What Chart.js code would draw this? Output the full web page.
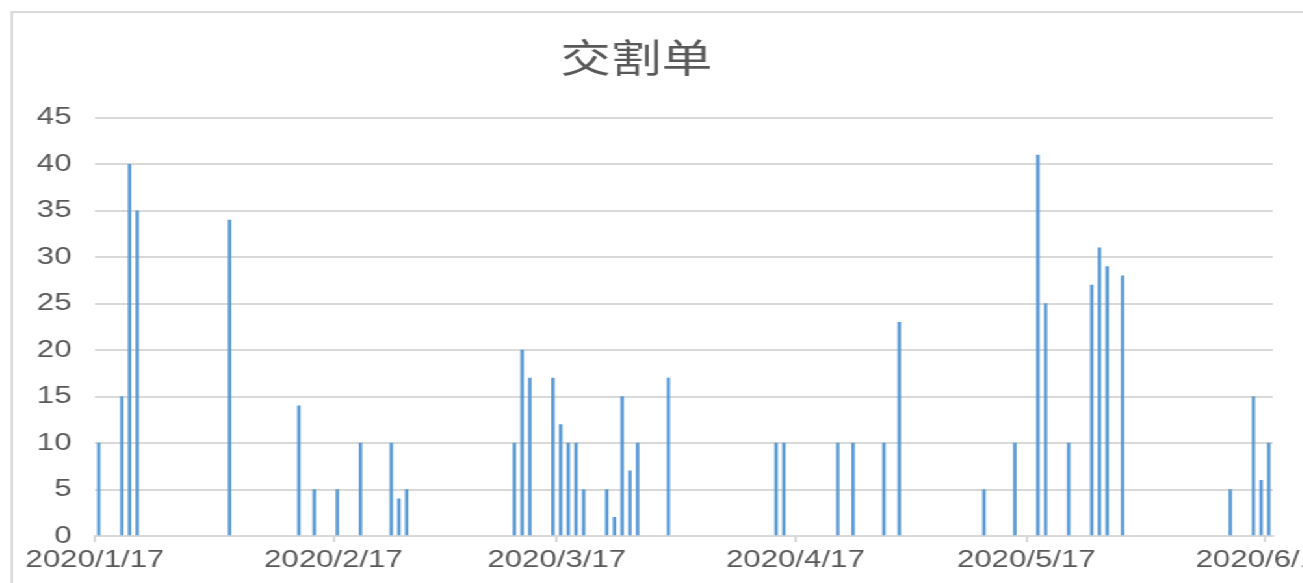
<!DOCTYPE html>
<html>
<head>
<meta charset="utf-8">
<script src="https://cdn.jsdelivr.net/npm/chart.js@4.4.1/dist/chart.umd.min.js"></script>
<style>
  html, body { margin: 0; padding: 0; background: #fff; overflow: hidden; }
  body { width: 1303px; height: 583px; position: relative; }
  /* the source picture is stretched sideways, so draw narrower and stretch */
  #wrap { position: absolute; left: 0; top: 0; width: 1002px; height: 583px;
          transform: scaleX(1.3); transform-origin: 0 0; }
  #frame { position: absolute; left: 8px; top: 11px; width: 1200px; height: 700px;
           border-top: 2px solid #d9d9d9; border-left: 2px solid #d9d9d9; }
  #box { position: absolute; left: 0; top: 0; width: 1002px; height: 583px; }
</style>
</head>
<body>
<div id="wrap">
  <div id="frame"></div>
  <div id="box"><canvas id="chart1"></canvas></div>
</div>
<script>
const tradeDates = ['2020/1/17', '2020/1/20', '2020/1/21', '2020/1/22', '2020/2/3',
    '2020/2/12', '2020/2/14', '2020/2/17', '2020/2/20', '2020/2/24', '2020/2/25', '2020/2/26',
    '2020/3/11', '2020/3/12', '2020/3/13', '2020/3/16', '2020/3/17', '2020/3/18', '2020/3/19',
    '2020/3/20', '2020/3/23', '2020/3/24', '2020/3/25', '2020/3/26', '2020/3/27', '2020/3/31',
    '2020/4/14', '2020/4/15', '2020/4/22', '2020/4/24', '2020/4/28', '2020/4/30',
    '2020/5/11', '2020/5/15', '2020/5/18', '2020/5/19', '2020/5/22', '2020/5/25', '2020/5/26',
    '2020/5/27', '2020/5/29', '2020/6/12', '2020/6/15', '2020/6/16', '2020/6/17'];
const volumes = [10, 15, 40, 35, 34,
    14, 5, 5, 10, 10, 4, 5,
    10, 20, 17, 17, 12, 10, 10,
    5, 5, 2, 15, 7, 10, 17,
    10, 10, 10, 10, 10, 23,
    5, 10, 41, 25, 10, 27, 31,
    29, 28, 5, 15, 6, 10];
const xTickLabels = ['2020/1/17', '2020/2/17', '2020/3/17', '2020/4/17', '2020/5/17', '2020/6/17'];
const yTicks = [0, 5, 10, 15, 20, 25, 30, 35, 40, 45];

// days since the first trade date
function dayNo(s) {
    const p = s.split('/').map(Number);
    const first = tradeDates[0].split('/').map(Number);
    return Math.round((Date.UTC(p[0], p[1] - 1, p[2]) - Date.UTC(first[0], first[1] - 1, first[2])) / 86400000);
}

const points = tradeDates.map((d, i) => ({ x: dayNo(d), y: volumes[i] }));
const lastDay = dayNo(tradeDates[tradeDates.length - 1]);

const tickFont = { family: "'Liberation Sans', Arial, sans-serif", size: 24 };

const ctx1 = document.getElementById('chart1').getContext('2d');
const chart1 = new Chart(ctx1, {
    type: 'bar',
    data: {
        datasets: [{
            label: '交割单',
            data: points,
            backgroundColor: '#5b9bd5',
            barThickness: 2
        }]
    },
    options: {
        responsive: true,
        maintainAspectRatio: false,
        animation: false,
        layout: { padding: { left: 0, right: 23, top: 0, bottom: 0 } },
        plugins: {
            legend: { display: false },
            tooltip: { enabled: false },
            title: {
                display: true,
                text: '交割单',
                color: '#595959',
                font: { family: "'Noto Sans CJK SC', sans-serif", size: 39, weight: 'normal', lineHeight: 1.2 },
                padding: { top: 34, bottom: 37 }
            }
        },
        scales: {
            x: {
                type: 'linear',
                offset: false,
                min: -0.5,
                max: lastDay + 0.5,
                grid: { offset: false, drawOnChartArea: false, drawTicks: true, tickLength: 6, color: '#d9d9d9', lineWidth: 2 },
                border: { display: true, color: '#d9d9d9', width: 2 },
                ticks: {
                    autoSkip: false,
                    maxRotation: 0,
                    padding: 4,
                    color: '#595959',
                    font: tickFont,
                    callback: (v, i) => xTickLabels[i]
                },
                afterBuildTicks: s => { s.ticks = xTickLabels.map(l => ({ value: dayNo(l) - 0.5 })); },
                afterFit: s => { s.height = 47; s.paddingLeft = 0; s.paddingRight = 0; }
            },
            y: {
                min: 0,
                max: 45,
                grid: { drawTicks: false, color: '#d9d9d9', lineWidth: 2 },
                border: { display: false },
                ticks: { padding: 18, color: '#595959', font: tickFont },
                afterBuildTicks: s => { s.ticks = yTicks.map(v => ({ value: v })); },
                afterFit: s => { s.width = 73; }
            }
        }
    }
});
</script>
</body>
</html>
